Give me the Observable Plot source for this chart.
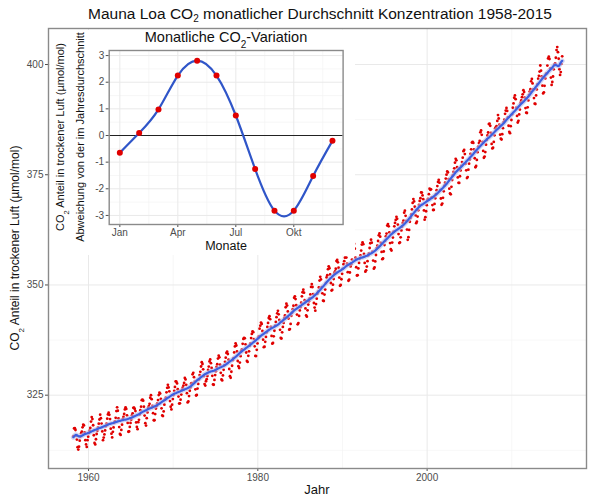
<!DOCTYPE html>
<html><head><meta charset="utf-8">
<script src="https://cdn.jsdelivr.net/npm/d3@7"></script>
<script src="https://cdn.jsdelivr.net/npm/@observablehq/plot@0.6"></script>
<style>
body{margin:0;background:#fff;}
#wrap{position:relative;width:600px;height:500px;overflow:hidden;font-family:"Liberation Sans",Arial,sans-serif;}
#main{position:absolute;left:0;top:0;}
#inset{position:absolute;left:50px;top:30px;width:305px;height:225px;background:#fff;}
#title{position:absolute;left:40px;width:560px;top:5px;text-align:center;font-size:15.5px;color:#111;line-height:18px;}
#title sub{font-size:10px;line-height:0;vertical-align:-3px;}
</style></head><body>
<div id="wrap"><div id="main"></div><div id="inset"></div>
<div id="title">Mauna Loa CO<sub>2</sub> monatlicher Durchschnitt Konzentration 1958-2015</div></div>
<script>
// ---- main series: monthly mean CO2 (µmol/mol), one row per year, Jan..Dec ----
const firstYear = 1958;
const co2 = [
[null,null,315.71,317.45,317.50,317.10,315.86,314.93,313.20,312.66,313.33,314.67],
[315.62,316.38,316.71,317.72,318.29,318.15,316.54,314.80,313.84,313.26,314.80,315.58],
[316.43,316.97,317.58,319.02,320.03,319.59,318.18,315.91,314.16,313.83,315.00,316.19],
[316.93,317.70,318.54,319.48,320.58,319.77,318.57,316.79,314.80,315.38,316.10,317.01],
[317.94,318.56,319.68,320.63,321.01,320.55,319.58,317.40,316.26,315.42,316.69,317.69],
[318.74,319.08,319.86,321.39,322.25,321.47,319.74,317.77,316.21,315.99,317.12,318.31],
[319.57,320.07,320.73,321.77,322.25,321.89,320.44,318.70,316.70,316.79,317.79,318.71],
[319.44,320.44,320.89,322.13,322.16,321.87,321.39,318.81,317.81,317.30,318.87,319.42],
[320.62,321.59,322.39,323.87,324.01,323.75,322.39,320.37,318.64,318.10,319.79,321.08],
[322.07,322.50,323.04,324.42,325.00,324.09,322.55,320.92,319.31,319.31,320.72,321.96],
[322.57,323.15,323.89,325.02,325.57,325.36,324.14,322.03,320.41,320.25,321.31,322.84],
[324.00,324.42,325.64,326.66,327.34,326.76,325.88,323.67,322.38,321.78,322.85,324.11],
[325.03,325.99,326.87,328.13,328.07,327.66,326.35,324.69,323.10,323.16,323.98,325.13],
[326.17,326.68,327.18,327.78,328.92,328.57,327.34,325.46,323.36,323.57,324.80,326.01],
[326.77,327.63,327.75,329.72,330.07,329.09,328.05,326.32,324.93,325.06,326.50,327.55],
[328.54,329.56,330.30,331.50,332.48,332.07,330.87,329.31,327.51,327.18,328.16,328.64],
[329.35,330.71,331.48,332.65,333.09,332.25,331.18,329.40,327.43,327.37,328.46,329.57],
[330.40,331.40,332.04,333.31,333.96,333.59,331.91,330.06,328.56,328.34,329.49,330.76],
[331.75,332.56,333.50,334.58,334.87,334.34,333.05,330.94,329.30,328.94,330.31,331.68],
[332.93,333.42,334.70,336.07,336.74,336.27,334.93,332.75,331.58,331.16,332.40,333.85],
[334.97,335.39,336.64,337.76,338.01,337.89,336.54,334.68,332.76,332.54,333.92,334.95],
[336.23,336.76,337.96,338.89,339.47,339.29,337.73,336.09,333.91,333.86,335.29,336.73],
[338.01,338.36,340.08,340.77,341.46,341.17,339.56,337.60,335.88,336.01,337.10,338.21],
[339.24,340.48,341.38,342.51,342.91,342.25,340.49,338.43,336.69,336.85,338.36,339.61],
[340.75,341.61,342.70,343.56,344.13,343.35,342.06,339.82,337.97,337.86,339.26,340.49],
[341.38,342.52,343.10,344.94,345.75,345.32,343.99,342.39,339.86,339.99,341.16,342.99],
[343.70,344.51,345.28,347.08,347.43,346.79,345.40,343.28,341.07,341.35,342.98,344.22],
[344.97,345.99,347.42,348.35,348.93,348.25,346.56,344.67,343.09,342.80,344.24,345.56],
[346.30,346.95,347.85,349.55,350.21,349.54,347.94,345.91,344.86,344.17,345.66,346.90],
[348.02,348.47,349.42,350.99,351.84,351.25,349.52,348.10,346.44,346.36,347.81,348.96],
[350.43,351.72,352.22,353.59,354.22,353.79,352.39,350.44,348.72,348.88,350.07,351.34],
[352.76,353.07,353.68,355.42,355.67,355.13,353.90,351.67,349.80,349.99,351.30,352.53],
[353.66,354.70,355.39,356.20,357.16,356.22,354.82,352.91,350.96,351.18,352.83,354.21],
[354.72,355.75,357.16,358.60,359.34,358.24,356.17,354.02,352.15,352.21,353.75,354.99],
[355.99,356.72,357.81,359.15,359.66,359.25,357.02,355.00,353.01,353.31,354.16,355.40],
[356.70,357.16,358.38,359.46,360.28,359.60,357.57,355.52,353.70,353.98,355.33,356.80],
[358.36,358.91,359.97,361.26,361.68,360.95,359.55,357.49,355.84,356.00,357.59,359.05],
[359.98,361.03,361.66,363.48,363.82,363.30,361.94,359.50,358.11,357.80,359.61,360.74],
[362.09,363.29,364.06,364.76,365.45,365.01,363.70,361.54,359.51,359.65,360.80,362.38],
[363.23,364.06,364.61,366.40,366.84,365.68,364.52,362.57,360.24,360.83,362.49,364.34],
[365.18,365.98,367.13,368.61,369.49,368.95,367.74,365.79,364.01,364.35,365.52,366.93],
[368.18,369.07,369.68,370.99,370.96,370.30,369.45,366.90,364.81,365.37,366.72,368.10],
[369.29,369.54,370.60,371.82,371.58,371.70,369.86,368.13,367.00,367.03,368.37,369.67],
[370.59,371.51,372.43,373.37,373.85,373.21,371.51,369.61,368.18,368.45,369.76,371.24],
[372.53,373.20,374.12,375.02,375.76,375.52,374.01,371.85,370.75,370.55,372.25,373.79],
[374.88,375.64,376.45,377.73,378.60,378.28,376.70,374.38,373.17,373.15,374.66,375.99],
[377.00,377.87,378.88,380.35,380.62,379.69,377.47,376.01,374.25,374.46,376.16,377.51],
[378.46,379.73,380.77,382.29,382.45,382.21,380.74,378.74,376.70,377.00,378.35,380.11],
[381.38,382.19,382.67,384.61,385.03,384.05,382.46,380.41,378.85,379.13,380.15,381.82],
[382.89,383.90,384.58,386.50,386.56,386.10,384.50,381.99,380.96,381.12,382.45,383.95],
[385.52,385.82,386.03,387.21,388.54,387.76,386.36,384.09,383.18,382.99,384.19,385.56],
[386.94,387.48,388.82,389.55,390.14,389.48,388.03,386.11,384.74,384.43,386.02,387.42],
[388.71,390.20,391.17,392.46,393.00,392.15,390.20,388.35,386.85,387.24,388.67,389.79],
[391.33,391.86,392.60,393.25,394.19,393.74,392.51,390.13,389.08,389.00,390.28,391.86],
[393.12,393.86,394.40,396.18,396.74,395.71,394.36,392.39,391.11,391.05,392.98,394.34],
[395.55,396.80,397.43,398.41,399.78,398.60,397.32,395.20,393.45,393.70,395.16,396.84],
[397.85,398.01,399.77,401.38,401.78,401.25,399.10,397.03,395.38,396.03,397.28,398.91],
[399.98,400.28,401.54,403.28,403.96,402.80,401.31,398.93,397.63,398.29,400.16,401.85]
];
const xMajor = [1960, 1980, 2000];
const xMinor = [1970, 1990, 2010];
const yMajor = [325, 350, 375, 400];
const yMinor = [312.5, 337.5, 362.5, 387.5];

// ---- inset: mean monthly deviation from the annual mean ----
const months = [1,2,3,4,5,6,7,8,9,10,11,12];
const deviation = [-0.65, 0.09, 0.98, 2.25, 2.81, 2.25, 0.75, -1.26, -2.82, -2.82, -1.52, -0.2];
const monthTicks = [1, 4, 7, 10];
const monthTickLabels = ["Jan", "Apr", "Jul", "Okt"];
const insetMinorX = [2.5, 5.5, 8.5, 11.5];
const insetYTicks = [-3, -2, -1, 0, 1, 2, 3];
const insetMinorY = [-2.5, -1.5, -0.5, 0.5, 1.5, 2.5];

const FONT = "Liberation Sans, Arial, sans-serif";
const data = [];
co2.forEach((row, i) => row.forEach((v, j) => {
  if (v != null) data.push({t: firstYear + i + (j + 0.5) / 12, v});
}));
const seasonal = months.map((m, i) => ({m, d: deviation[i]}));

const main = Plot.plot({
  width: 600, height: 500,
  marginLeft: 48, marginRight: 14, marginTop: 28, marginBottom: 32,
  style: {fontFamily: FONT, fontSize: "10px", color: "#4d4d4d", background: "#fff"},
  x: {domain: [1955.27, 2018.83], label: null},
  y: {domain: [308.37, 408.17], label: null},
  marks: [
    Plot.ruleX(xMinor, {stroke: "#f3f3f3", strokeWidth: 0.7}),
    Plot.ruleY(yMinor, {stroke: "#f3f3f3", strokeWidth: 0.7}),
    Plot.ruleX(xMajor, {stroke: "#e9e9e9", strokeWidth: 1}),
    Plot.ruleY(yMajor, {stroke: "#e9e9e9", strokeWidth: 1}),
    Plot.dot(data, {x: "t", y: "v", r: 1.4, fill: "#e00000", stroke: "none"}),
    Plot.lineY(data, Plot.windowY({k: 24}, {x: "t", y: "v", stroke: "#b8bde8", strokeWidth: 5, strokeOpacity: 0.6})),
    Plot.lineY(data, Plot.windowY({k: 24}, {x: "t", y: "v", stroke: "#3d5fe0", strokeWidth: 2.2})),
    Plot.axisX({ticks: xMajor, tickFormat: "d", tickSize: 3, tickPadding: 2, label: null, fill: "#4d4d4d"}),
    Plot.axisY({ticks: yMajor, tickFormat: "d", tickSize: 3, tickPadding: 2, label: null, fill: "#4d4d4d"}),
    Plot.frame({stroke: "#8a8a8a", strokeWidth: 1.4})
  ]
});
document.getElementById("main").appendChild(main);
const ms = d3.select(main);
ms.append("text").attr("x", 317).attr("y", 494).attr("text-anchor", "middle")
  .attr("font-size", 13).attr("fill", "#111").attr("font-family", FONT).text("Jahr");
const yl = ms.append("text").attr("transform", "translate(19,248) rotate(-90)")
  .attr("text-anchor", "middle").attr("font-size", 12).attr("fill", "#111").attr("font-family", FONT);
yl.append("tspan").text("CO");
yl.append("tspan").attr("baseline-shift", "sub").attr("font-size", 8).text("2");
yl.append("tspan").text(" Anteil in trockener Luft (µmol/mol)");

const inset = Plot.plot({
  width: 305, height: 225,
  marginLeft: 58.7, marginRight: 12.4, marginTop: 20, marginBottom: 31,
  style: {fontFamily: FONT, fontSize: "10px", color: "#4d4d4d", background: "#fff"},
  x: {domain: [0.45, 12.55], label: null},
  y: {domain: [-3.34, 3.19], label: null},
  marks: [
    Plot.ruleX(insetMinorX, {stroke: "#f3f3f3", strokeWidth: 0.7}),
    Plot.ruleY(insetMinorY, {stroke: "#f3f3f3", strokeWidth: 0.7}),
    Plot.ruleX(monthTicks, {stroke: "#e9e9e9", strokeWidth: 1}),
    Plot.ruleY(insetYTicks, {stroke: "#e9e9e9", strokeWidth: 1}),
    Plot.ruleY([0], {stroke: "#222", strokeWidth: 1.2}),
    Plot.line(seasonal, {x: "m", y: "d", curve: "natural", stroke: "#2f55c8", strokeWidth: 2.2}),
    Plot.dot(seasonal, {x: "m", y: "d", r: 3, fill: "#e00000", stroke: "none"}),
    Plot.axisX({ticks: monthTicks, tickFormat: (d) => monthTickLabels[monthTicks.indexOf(d)], tickSize: 3, tickPadding: 1, label: null, fill: "#4d4d4d"}),
    Plot.axisY({ticks: insetYTicks, tickFormat: (d) => String(d), tickSize: 3, tickPadding: 2, label: null, fill: "#4d4d4d"}),
    Plot.frame({stroke: "#8a8a8a", strokeWidth: 1.4})
  ]
});
document.getElementById("inset").appendChild(inset);
const is = d3.select(inset);
const it = is.append("text").attr("x", 176).attr("y", 12).attr("text-anchor", "middle")
  .attr("font-size", 14.5).attr("fill", "#111").attr("font-family", FONT);
it.append("tspan").text("Monatliche CO");
it.append("tspan").attr("baseline-shift", "sub").attr("font-size", 10).text("2");
it.append("tspan").text("-Variation");
is.append("text").attr("x", 176).attr("y", 220).attr("text-anchor", "middle")
  .attr("font-size", 12.5).attr("fill", "#111").attr("font-family", FONT).text("Monate");
const l1 = is.append("text").attr("transform", "translate(14,107) rotate(-90)")
  .attr("text-anchor", "middle").attr("font-size", 11).attr("fill", "#111").attr("font-family", FONT);
l1.append("tspan").text("CO");
l1.append("tspan").attr("baseline-shift", "sub").attr("font-size", 7.5).text("2");
l1.append("tspan").text(" Anteil in trockener Luft (µmol/mol)");
is.append("text").attr("transform", "translate(34,107) rotate(-90)")
  .attr("text-anchor", "middle").attr("font-size", 11).attr("fill", "#111").attr("font-family", FONT)
  .text("Abweichung von der im Jahresdurchschnitt");
</script>
</body></html>
